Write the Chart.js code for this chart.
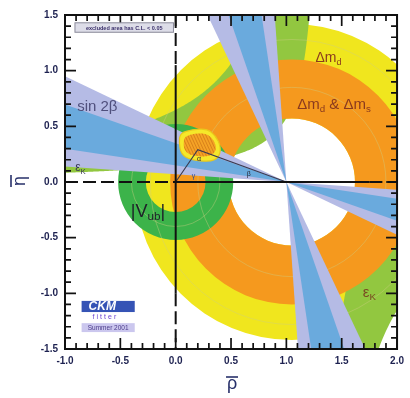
<!DOCTYPE html>
<html>
<head>
<meta charset="utf-8">
<script src="https://cdn.jsdelivr.net/npm/chart.js@4"></script>
<style>
  html, body { margin: 0; padding: 0; background: #ffffff; }
  canvas { display: block; }
</style>
</head>
<body>
<canvas id="ut" width="410" height="398"></canvas>
<script>
// ---- constraint values in the (rho-bar, eta-bar) plane ----
const rhoTicks = [-1.0, -0.5, 0.0, 0.5, 1.0, 1.5, 2.0];
const etaTicks = [-1.5, -1.0, -0.5, 0.0, 0.5, 1.0, 1.5];

const dmCenter = [1.05, 0.0];
const dmdRadii = [0.57, 1.42];      // Δm_d band
const dmsRadii = [0.57, 1.10];      // Δm_d & Δm_s band
const vubCenter = [0.0, 0.0];
const vubRadii = [0.27, 0.52];      // |Vub/Vcb| band
const epsKInner = [1.338, 0.194];   // η(a − ρ) = k  →  [a, k]
const epsKOuter = [1.28, 0.83];
const wedgeApex = [1.0, 0.0];
const sin2bOuter = [4.0, 25.4];     // β range (deg), outer CL
const sin2bInner = [8.5, 19.2];     // β range (deg), inner CL
const faintCircles = [[1.05, 0.0, 0.85], [1.05, 0.0, 1.28], [0.0, 0.0, 0.40]];

const fit95 = [[0.04, 0.44], [0.15, 0.47], [0.28, 0.48], [0.36, 0.42], [0.41, 0.31],
               [0.39, 0.22], [0.31, 0.18], [0.13, 0.20], [0.05, 0.25], [0.03, 0.35]];
const fit68 = [[0.08, 0.41], [0.19, 0.44], [0.29, 0.43], [0.35, 0.37], [0.37, 0.29],
               [0.32, 0.23], [0.15, 0.23], [0.08, 0.28], [0.07, 0.35]];
const triangle = [[0.0, 0.0], [0.20, 0.29], [1.0, 0.0]];

const COL = {
  yellow: '#f0e61e', lime: '#92c740', orange: '#f5991e', green: '#3cb34a',
  blue: '#6aaadd', lavender: '#b5bbe5', frame: '#111111', tick: '#1d2150'
};

function smoothPath(ctx, P) {
  const n = P.length;
  const mid = (a, b) => [(a[0] + b[0]) / 2, (a[1] + b[1]) / 2];
  let m = mid(P[n - 1], P[0]);
  ctx.moveTo(m[0], m[1]);
  for (let i = 0; i < n; i++) {
    const nm = mid(P[i], P[(i + 1) % n]);
    ctx.quadraticCurveTo(P[i][0], P[i][1], nm[0], nm[1]);
  }
  ctx.closePath();
}

const constraints = {
  id: 'constraints',
  beforeDatasetsDraw(chart) {
    const { ctx, chartArea: a, scales: { x, y } } = chart;
    const X = v => x.getPixelForValue(v), Y = v => y.getPixelForValue(v);
    const polyPath = pts => {
      ctx.beginPath();
      pts.forEach(([r, e], i) => i ? ctx.lineTo(X(r), Y(e)) : ctx.moveTo(X(r), Y(e)));
      ctx.closePath();
    };
    const ring = (c, radii, color) => {
      const cx = X(c[0]), cy = Y(c[1]);
      ctx.beginPath();
      radii.forEach(r => {
        const rx = X(c[0] + r) - cx, ry = cy - Y(c[1] + r);
        ctx.moveTo(cx + rx, cy);
        ctx.ellipse(cx, cy, rx, ry, 0, 0, Math.PI * 2);
      });
      ctx.fillStyle = color;
      ctx.fill('evenodd');
    };

    ctx.save();
    ctx.beginPath();
    ctx.rect(a.left, a.top, a.right - a.left, a.bottom - a.top);
    ctx.clip();

    // Δm_d
    ring(dmCenter, dmdRadii, COL.yellow);

    // ε_K hyperbolic band, both branches
    const [ai, ki] = epsKInner, [ao, ko] = epsKOuter;
    const top = 1.8, left = -1.3, right = 2.3, step = 0.01;
    let pts = [];
    for (let r = left; r <= ao - ko / top; r += step) pts.push([r, ko / (ao - r)]);
    pts.push([ao - ko / top, top], [ai - ki / top, top]);
    for (let r = ai - ki / top; r >= left; r -= step) pts.push([r, ki / (ai - r)]);
    polyPath(pts); ctx.fillStyle = COL.lime; ctx.fill();
    pts = [[ai + ki / top, -top]];
    for (let r = ai + ki / top; r <= right; r += step) pts.push([r, -ki / (r - ai)]);
    for (let r = right; r >= ao + ko / top; r -= step) pts.push([r, -ko / (r - ao)]);
    pts.push([ao + ko / top, -top]);
    polyPath(pts); ctx.fill();

    // Δm_d & Δm_s
    ring(dmCenter, dmsRadii, COL.orange);
    // |Vub|
    ring(vubCenter, vubRadii, COL.green);

    // faint contour lines
    ctx.lineWidth = 0.7;
    ctx.strokeStyle = 'rgba(205,205,130,0.6)';
    faintCircles.forEach(([cr, ce, r]) => {
      const cx = X(cr), cy = Y(ce);
      ctx.beginPath();
      ctx.ellipse(cx, cy, X(cr + r) - cx, cy - Y(ce + r), 0, 0, Math.PI * 2);
      ctx.stroke();
    });

    // sin 2β wedges (both solutions, both sides of the apex)
    const L = 5, d2r = Math.PI / 180, [wr, we] = wedgeApex;
    const wedge = (b1, b2, color) => {
      [[b1, b2], [90 - b2, 90 - b1]].forEach(([t1, t2]) => {
        [1, -1].forEach(s => {
          polyPath([wedgeApex,
            [wr - s * L * Math.cos(t1 * d2r), we + s * L * Math.sin(t1 * d2r)],
            [wr - s * L * Math.cos(t2 * d2r), we + s * L * Math.sin(t2 * d2r)]]);
          ctx.fillStyle = color; ctx.fill();
        });
      });
    };
    wedge(sin2bOuter[0], sin2bOuter[1], COL.lavender);
    wedge(sin2bInner[0], sin2bInner[1], COL.blue);

    // global fit region
    const fitPx = arr => arr.map(([r, e]) => [X(r), Y(e)]);
    ctx.beginPath(); smoothPath(ctx, fitPx(fit95));
    ctx.fillStyle = '#f5e82a'; ctx.fill();
    ctx.lineWidth = 1.2; ctx.strokeStyle = '#e9c81c'; ctx.stroke();
    ctx.beginPath(); smoothPath(ctx, fitPx(fit68));
    ctx.fillStyle = '#f5a326'; ctx.fill();
    ctx.save();
    ctx.clip();
    ctx.strokeStyle = 'rgba(200,110,20,0.8)'; ctx.lineWidth = 0.8;
    for (let k = -40; k < 60; k += 3) {
      ctx.beginPath();
      ctx.moveTo(X(0) + k, Y(0.5)); ctx.lineTo(X(0) + k + 18, Y(0.15));
      ctx.stroke();
    }
    ctx.restore();
    ctx.restore();
  },
  afterDatasetsDraw(chart) {
    const { ctx, chartArea: a, scales: { x, y } } = chart;
    const X = v => x.getPixelForValue(v), Y = v => y.getPixelForValue(v);
    ctx.save();

    // dashed / solid axis lines through the origin
    ctx.strokeStyle = COL.frame; ctx.lineWidth = 2;
    const seg = (x1, y1, x2, y2, dash) => {
      ctx.setLineDash(dash ? [13, 5] : []);
      ctx.beginPath(); ctx.moveTo(X(x1), Y(y1)); ctx.lineTo(X(x2), Y(y2)); ctx.stroke();
    };
    seg(-1.0, 0, 0, 0, true); seg(0, 0, 1.75, 0, false); seg(1.75, 0, 2.0, 0, true);
    seg(0, 1.5, 0, 1.05, true); seg(0, 1.05, 0, -1.0, false); seg(0, -1.0, 0, -1.5, true);
    ctx.setLineDash([]);

    // tiny angle labels of the triangle
    ctx.font = '7px "Liberation Sans"'; ctx.textAlign = 'center'; ctx.textBaseline = 'middle';
    ctx.fillStyle = '#2a2a3a';
    ctx.fillText('α', X(0.21), Y(0.21));
    ctx.fillText('β', X(0.66), Y(0.07));
    ctx.fillStyle = '#2a4a9a';
    ctx.fillText('γ', X(0.16), Y(0.05));

    // frame
    ctx.lineWidth = 2; ctx.strokeStyle = COL.frame;
    ctx.strokeRect(a.left, a.top, a.right - a.left, a.bottom - a.top);
    // inward ticks on all four sides
    ctx.lineWidth = 1.7;
    for (let i = 0; i <= 30; i++) {
      const v = -1.0 + i * 0.1, px = X(v), len = i % 5 === 0 ? 11 : 6;
      ctx.beginPath();
      ctx.moveTo(px, a.bottom); ctx.lineTo(px, a.bottom - len);
      ctx.moveTo(px, a.top); ctx.lineTo(px, a.top + len);
      ctx.stroke();
    }
    for (let i = 0; i <= 30; i++) {
      const v = -1.5 + i * 0.1, py = Y(v), len = i % 5 === 0 ? 11 : 6;
      ctx.beginPath();
      ctx.moveTo(a.left, py); ctx.lineTo(a.left + len, py);
      ctx.moveTo(a.right, py); ctx.lineTo(a.right - len, py);
      ctx.stroke();
    }

    // axis titles
    ctx.fillStyle = '#27306a';
    ctx.font = '18px "Liberation Sans"'; ctx.textAlign = 'center'; ctx.textBaseline = 'alphabetic';
    const cxT = (a.left + a.right) / 2 + 1;
    ctx.fillText('ρ', cxT, 389);
    ctx.strokeStyle = '#27306a'; ctx.lineWidth = 1.6;
    ctx.beginPath(); ctx.moveTo(cxT - 6, 377); ctx.lineTo(cxT + 6, 377); ctx.stroke();
    ctx.save();
    ctx.translate(21, Y(0) - 1); ctx.rotate(-Math.PI / 2);
    ctx.textBaseline = 'alphabetic';
    ctx.fillText('η', 0, 4);
    ctx.beginPath(); ctx.moveTo(-6, -10); ctx.lineTo(6, -10); ctx.stroke();
    ctx.restore();

    // text with a subscript
    const sub = (parts, px, py, size, color, align) => {
      ctx.fillStyle = color; ctx.textBaseline = 'alphabetic'; ctx.textAlign = 'left';
      let w = 0;
      parts.forEach(([t, s]) => { ctx.font = (s ? size * 0.65 : size) + 'px "Liberation Sans"'; w += ctx.measureText(t).width; });
      let cx = align === 'center' ? px - w / 2 : px;
      parts.forEach(([t, s]) => {
        ctx.font = (s ? size * 0.65 : size) + 'px "Liberation Sans"';
        ctx.fillText(t, cx, s ? py + size * 0.22 : py);
        cx += ctx.measureText(t).width;
      });
    };
    sub([['Δm', 0], ['d', 1]], X(1.38), Y(1.08), 14, '#8a3a1e', 'center');
    sub([['Δm', 0], ['d', 1], [' & Δm', 0], ['s', 1]], X(1.43), Y(0.655), 15, '#8a3a1e', 'center');
    sub([['ε', 0], ['K', 1]], X(1.75), Y(-1.03), 15, '#7a4a22', 'center');
    sub([['ε', 0], ['K', 1]], X(-0.86), Y(0.10), 12, '#3a3a55', 'center');
    sub([['sin 2β', 0]], X(-0.89), Y(0.64), 15, '#4f4f7c', 'left');
    sub([['|V', 0], ['ub', 1], ['|', 0]], X(-0.405), Y(-0.31), 18, '#1e1e28', 'left');

    // confidence-level legend box
    const bx = X(-0.91), by = Y(1.43), bw = X(-0.02) - bx, bh = Y(1.345) - by;
    ctx.fillStyle = '#dddde8'; ctx.fillRect(bx, by, bw, bh);
    ctx.strokeStyle = '#8a8a9a'; ctx.lineWidth = 1; ctx.strokeRect(bx, by, bw, bh);
    ctx.fillStyle = '#3a2f6a'; ctx.font = 'bold 5.5px "Liberation Sans"';
    ctx.textAlign = 'center'; ctx.textBaseline = 'middle';
    ctx.fillText('excluded area has C.L. < 0.05', bx + bw / 2, by + bh / 2 + 0.5);

    // CKMfitter badge
    const lx = X(-0.85), lw = X(-0.37) - lx;
    ctx.fillStyle = '#3553b5'; ctx.fillRect(lx, Y(-1.068), lw, Y(-1.168) - Y(-1.068));
    ctx.fillStyle = '#ffffff'; ctx.font = 'italic bold 12px "Liberation Sans"';
    ctx.textAlign = 'left'; ctx.textBaseline = 'middle';
    ctx.fillText('CKM', lx + 7, (Y(-1.068) + Y(-1.168)) / 2 + 0.5);
    ctx.fillStyle = '#6a40d0'; ctx.font = '7px "Liberation Sans"';
    ctx.letterSpacing = '2px';
    ctx.textAlign = 'left';
    ctx.fillText('fitter', lx + 11, Y(-1.215));
    ctx.letterSpacing = '0px';
    ctx.fillStyle = '#cbc7ee'; ctx.fillRect(lx, Y(-1.268), lw, Y(-1.348) - Y(-1.268));
    ctx.fillStyle = '#4a3a8a'; ctx.font = '6.5px "Liberation Sans"'; ctx.textAlign = 'center';
    ctx.fillText('Summer 2001', lx + lw / 2, (Y(-1.268) + Y(-1.348)) / 2 + 0.5);

    ctx.restore();
  }
};

const tickFont = { family: 'Liberation Sans', weight: 'bold', size: 10 };

new Chart(document.getElementById('ut'), {
  type: 'scatter',
  data: {
    datasets: [{
      label: 'unitarity triangle',
      data: triangle.map(([r, e]) => ({ x: r, y: e })),
      showLine: true,
      borderColor: '#3b3b50',
      borderWidth: 1.1,
      pointRadius: 0,
      fill: false
    }]
  },
  options: {
    responsive: false,
    devicePixelRatio: 1,
    animation: false,
    events: [],
    layout: { padding: { top: 15, right: 8, bottom: 0, left: 0 } },
    plugins: { legend: { display: false }, tooltip: { enabled: false } },
    scales: {
      x: {
        type: 'linear', min: rhoTicks[0], max: rhoTicks[rhoTicks.length - 1],
        grid: { display: false, drawTicks: false }, border: { display: false },
        afterBuildTicks: s => { s.ticks = rhoTicks.map(v => ({ value: v })); },
        afterFit: s => { s.height = 49; },
        ticks: { font: tickFont, color: COL.tick, padding: 6, maxRotation: 0,
                 callback: v => v.toFixed(1) }
      },
      y: {
        type: 'linear', min: etaTicks[0], max: etaTicks[etaTicks.length - 1],
        grid: { display: false, drawTicks: false }, border: { display: false },
        afterBuildTicks: s => { s.ticks = etaTicks.map(v => ({ value: v })); },
        afterFit: s => { s.width = 65; },
        ticks: { font: tickFont, color: COL.tick, padding: 7,
                 callback: v => v.toFixed(1) }
      }
    }
  },
  plugins: [constraints]
});
</script>
</body>
</html>
